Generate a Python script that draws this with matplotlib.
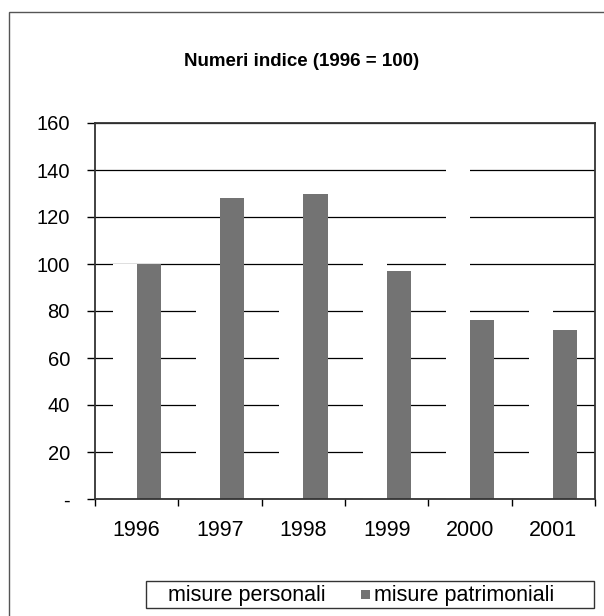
import numpy as np
import matplotlib.pyplot as plt
from matplotlib.patches import Rectangle

plt.rcParams['font.family'] = ['Liberation Sans', 'DejaVu Sans']

years = ['1996', '1997', '1998', '1999', '2000', '2001']
# white bars (not visible against the background, they only hide gridlines)
misure_personali = [100, 90, 92, 110, 150, 92]
misure_patrimoniali = [100, 128, 130, 97, 76, 72]
yticks = [0, 20, 40, 60, 80, 100, 120, 140, 160]
ytick_labels = ['-', '20', '40', '60', '80', '100', '120', '140', '160']
legend_labels = ['misure personali', 'misure patrimoniali']

W, H = 604, 616
fig = plt.figure(figsize=(W / 100, H / 100), dpi=100)

# outer chart frame (only left and top edges visible in the scan)
fig.patches.append(Rectangle((9 / W, -0.05), 1.2, 1 - 12 / H + 0.05,
                             transform=fig.transFigure, fill=False,
                             edgecolor='#555555', linewidth=1.0))

ax = fig.add_axes([95 / W, 1 - 499 / H, 500 / W, 376 / H])
x = np.arange(len(years))
w = 0.29
ax.set_axisbelow(True)
ax.yaxis.grid(True, color='black', linewidth=0.9)
ax.bar(x - w / 2, misure_personali, w, color='white', edgecolor='none', zorder=2)
ax.bar(x + w / 2, misure_patrimoniali, w, color='#737373', edgecolor='none', zorder=2)

ax.set_xlim(-0.5, len(years) - 0.5)
ax.set_ylim(0, 160)
ax.set_yticks(yticks)
ax.set_yticklabels(ytick_labels, fontsize=14.5)
ax.set_xticks(np.arange(-0.5, len(years), 1.0))
ax.set_xticklabels([])
ax.set_xticks(x, minor=True)
ax.set_xticklabels(years, minor=True, fontsize=15.5)
ax.tick_params(axis='x', which='minor', length=0, pad=15)
ax.tick_params(axis='x', which='major', length=5, width=1, direction='out')
ax.tick_params(axis='y', length=6, width=1, direction='out', pad=12)
for s in ax.spines.values():
    s.set_color('#333333')
    s.set_linewidth(1.3)

fig.text(302 / W, 1 - 62 / H, 'Numeri indice (1996 = 100)', ha='center',
         va='center', fontsize=13.5, fontweight='bold')

# legend box drawn by hand to match the spacing of the original
fig.patches.append(Rectangle((146 / W, 1 - 608 / H), 448 / W, 27 / H,
                             transform=fig.transFigure, facecolor='white',
                             edgecolor='#333333', linewidth=1.0))
fig.text(168 / W, 1 - 595 / H, legend_labels[0], ha='left', va='center',
         fontsize=15.5)
fig.patches.append(Rectangle((361 / W, 1 - 599 / H), 9 / W, 9 / H,
                             transform=fig.transFigure, facecolor='#737373',
                             edgecolor='none'))
fig.text(374 / W, 1 - 595 / H, legend_labels[1], ha='left', va='center',
         fontsize=15.5)

fig.savefig('out.png', dpi=100)
